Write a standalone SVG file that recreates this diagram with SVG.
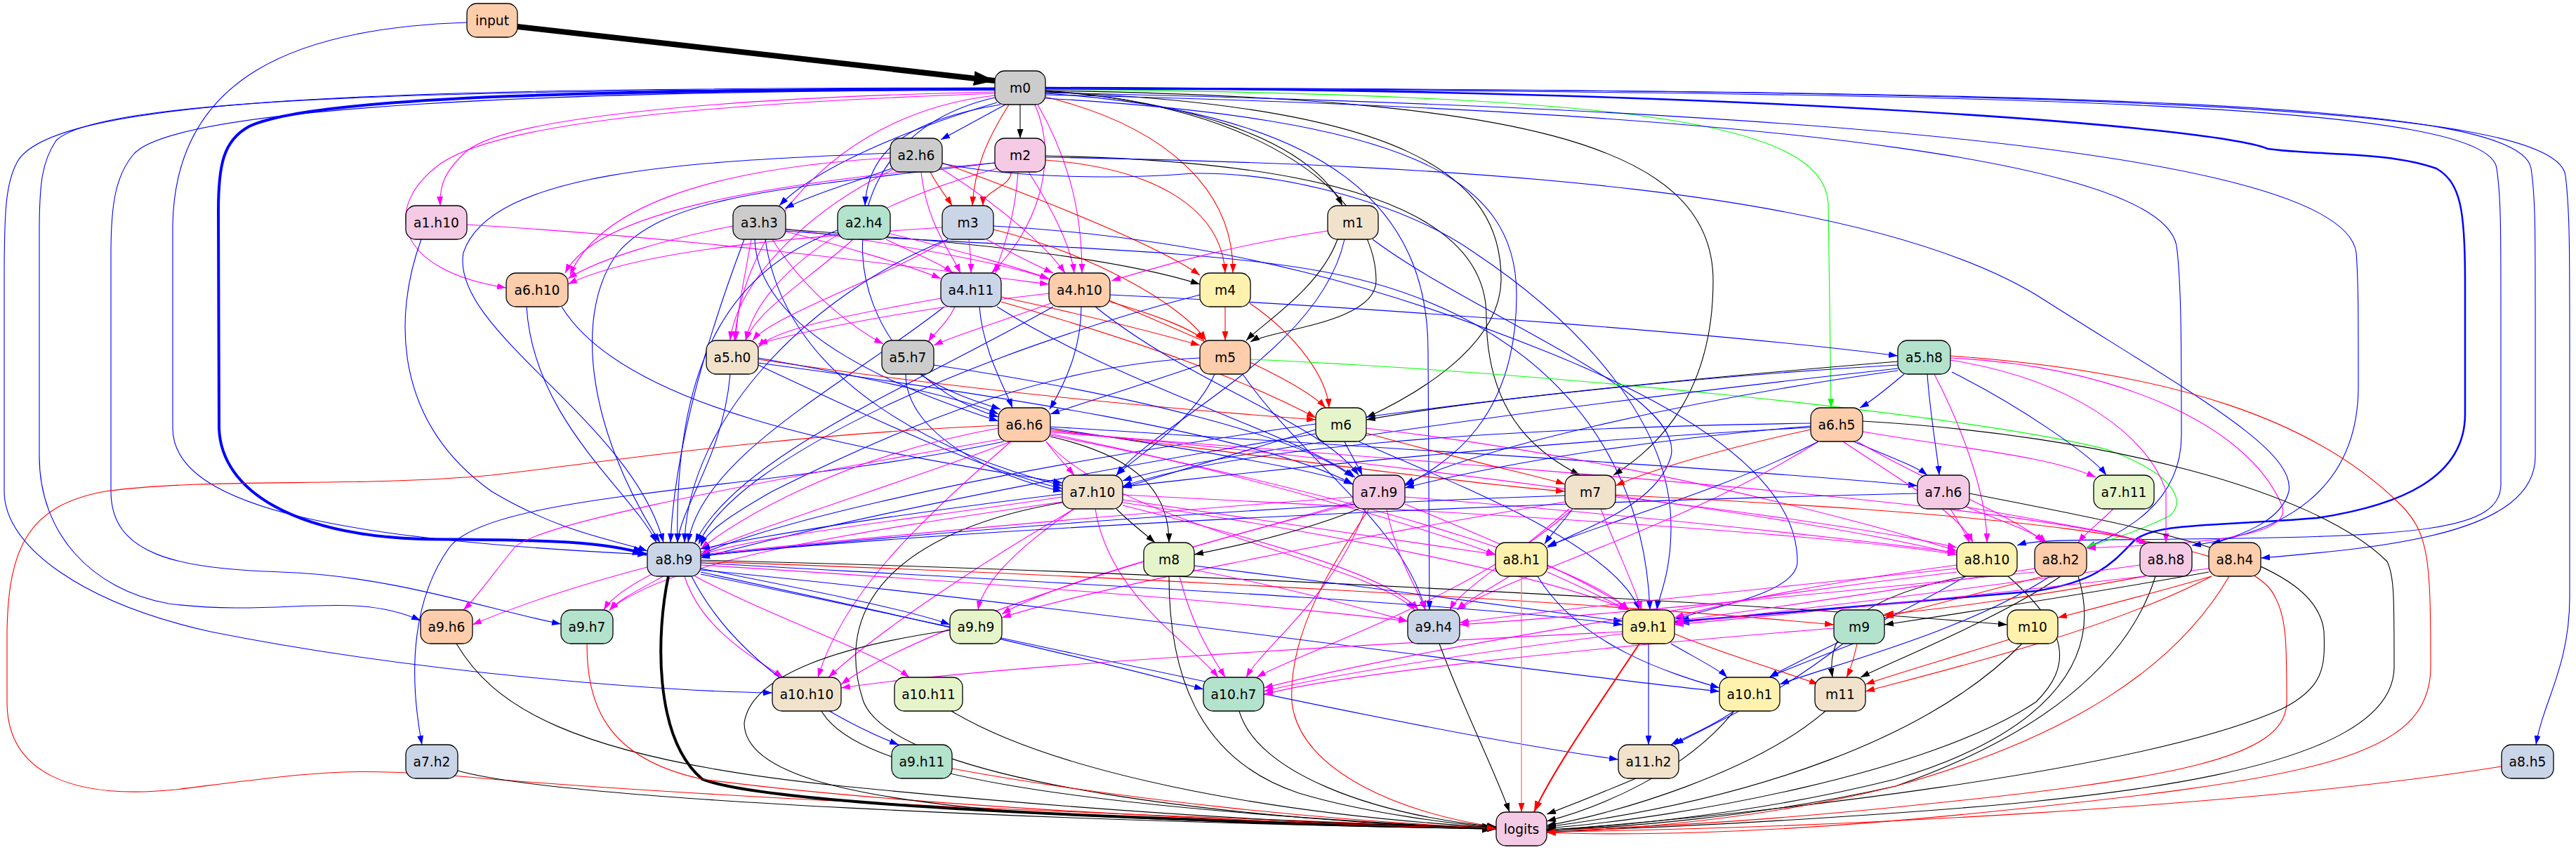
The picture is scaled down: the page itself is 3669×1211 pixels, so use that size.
<svg xmlns="http://www.w3.org/2000/svg" width="3669" height="1211" viewBox="0 0 3669 1211">
<defs>
<marker id="ak" viewBox="0 0 13 9" refX="13" refY="4.5" markerWidth="13" markerHeight="9" markerUnits="userSpaceOnUse" orient="auto"><path d="M0,0L13,4.5L0,9z" fill="#000"/></marker>
<marker id="ab" viewBox="0 0 13 9" refX="13" refY="4.5" markerWidth="13" markerHeight="9" markerUnits="userSpaceOnUse" orient="auto"><path d="M0,0L13,4.5L0,9z" fill="#00f"/></marker>
<marker id="ar" viewBox="0 0 13 9" refX="13" refY="4.5" markerWidth="13" markerHeight="9" markerUnits="userSpaceOnUse" orient="auto"><path d="M0,0L13,4.5L0,9z" fill="#f00"/></marker>
<marker id="am" viewBox="0 0 13 9" refX="13" refY="4.5" markerWidth="13" markerHeight="9" markerUnits="userSpaceOnUse" orient="auto"><path d="M0,0L13,4.5L0,9z" fill="#f0f"/></marker>
<marker id="ag" viewBox="0 0 13 9" refX="13" refY="4.5" markerWidth="13" markerHeight="9" markerUnits="userSpaceOnUse" orient="auto"><path d="M0,0L13,4.5L0,9z" fill="#0f0"/></marker>
<marker id="akT" viewBox="0 0 13 9" refX="13" refY="4.5" markerWidth="30" markerHeight="21" markerUnits="userSpaceOnUse" orient="auto"><path d="M0,0L13,4.5L0,9z" fill="#000"/></marker>
<marker id="akL" viewBox="0 0 13 9" refX="13" refY="4.5" markerWidth="20" markerHeight="14" markerUnits="userSpaceOnUse" orient="auto"><path d="M0,0L13,4.5L0,9z" fill="#000"/></marker>
<marker id="abT" viewBox="0 0 13 9" refX="13" refY="4.5" markerWidth="20" markerHeight="14" markerUnits="userSpaceOnUse" orient="auto"><path d="M0,0L13,4.5L0,9z" fill="#00f"/></marker>
<marker id="arM" viewBox="0 0 13 9" refX="13" refY="4.5" markerWidth="16" markerHeight="11" markerUnits="userSpaceOnUse" orient="auto"><path d="M0,0L13,4.5L0,9z" fill="#f00"/></marker>
</defs>
<style>
.e path{fill:none;stroke-width:1.1}
.k{stroke:#000;marker-end:url(#ak)}
.b{stroke:#00f;marker-end:url(#ab)}
.r{stroke:#f00;marker-end:url(#ar)}
.m{stroke:#f0f;marker-end:url(#am)}
.g{stroke:#0f0;marker-end:url(#ag)}
.e path.kT{stroke:#000;stroke-width:8;marker-end:url(#akT)}
.e path.kL{stroke:#000;stroke-width:4;marker-end:url(#akL)}
.e path.bT{stroke:#00f;stroke-width:4;marker-end:url(#abT)}
.e path.bM{stroke:#00f;stroke-width:2.5;marker-end:url(#abT)}
.e path.rM{stroke:#f00;stroke-width:2;marker-end:url(#arM)}
.e path.rl{stroke:#f88;stroke-width:1.5;marker-end:url(#ar)}
.n rect{stroke:#000;stroke-width:1.3}
.n text{font-family:"DejaVu Sans","Liberation Sans",sans-serif;font-size:18.67px;text-anchor:middle;fill:#000}
</style>
<rect width="3669" height="1211" fill="#fff"/>
<g id="connectors" class="e">
<path class="kT" d="M737,38 L1417,115"/>
<path class="b" d="M665,32 C420,40 250,110 246,320 L246,610 C246,730 520,770 921,790"/>
<path class="b" d="M1432,149 L1340,199"/>
<path class="k" d="M1453,149 L1453,197"/>
<path class="m" d="M1417,131 C1000,140 720,170 665,215 C632,245 626,265 627,293"/>
<path class="b" d="M1420,146 C1290,185 1160,240 1110,293"/>
<path class="b" d="M1425,149 C1300,170 1236,210 1232,293"/>
<path class="r" d="M1437,149 C1405,200 1388,240 1385,293"/>
<path class="k" d="M1489,130 C1660,140 1860,190 1912,293"/>
<path class="m" d="M1417,133 C950,150 700,180 625,235 C545,295 560,385 721,410"/>
<path class="m" d="M1474,149 C1510,230 1475,330 1412,389"/>
<path class="m" d="M1478,149 C1530,240 1541,320 1541,389"/>
<path class="r" d="M1489,138 C1660,180 1758,270 1756,389"/>
<path class="m" d="M1417,136 C1200,160 1060,320 1046,485"/>
<path class="k" d="M1489,129 C1800,150 1960,280 1960,400 C1960,460 1810,470 1781,487"/>
<path class="b" d="M1417,139 C1150,200 1180,520 1422,594"/>
<path class="k" d="M1489,131 C2000,150 2140,250 2138,400 C2136,500 2000,570 1946,595"/>
<path class="g" d="M1489,127 C2300,135 2598,170 2604,290 L2608,581"/>
<path class="b" d="M1489,140 C2000,170 2160,250 2160,420 C2160,600 2060,660 2001,692"/>
<path class="k" d="M1489,129 C2150,140 2440,200 2440,400 C2440,580 2340,650 2298,677"/>
<path class="bT" d="M1417,127 C900,128 450,135 355,180 C318,200 311,235 311,300 L312,610 C315,700 420,762 600,768 C750,770 850,768 921,790"/>
<path class="b" d="M1417,126 C700,128 150,135 80,200 C60,230 56,260 56,330 L56,650 C56,760 130,840 240,860 C400,880 500,840 599,884"/>
<path class="b" d="M1417,128 C800,130 250,150 190,220 C165,250 158,290 158,360 L158,700 C158,790 250,810 400,815 C560,820 700,870 799,889"/>
<path class="b" d="M1417,125 C600,126 80,135 25,230 C8,260 6,300 6,400 L6,700 C6,780 120,860 300,900 C600,960 950,985 1100,987"/>
<path class="b" d="M1489,133 C1900,160 2034,300 2034,500 L2036,869"/>
<path class="b" d="M1489,125 C3000,128 3640,150 3654,250 C3660,300 3660,350 3660,500 L3660,850 C3660,950 3622,1000 3612,1061"/>
<path class="b" d="M1489,126 C3000,128 3590,145 3605,240 C3611,280 3611,320 3611,450 L3611,650 C3611,760 3400,780 3220,795"/>
<path class="b" d="M1489,127 C2950,130 3545,150 3556,240 C3562,280 3562,320 3562,450 L3562,690 C3562,755 3450,765 3100,768 C2960,770 2900,768 2873,777"/>
<path class="b" d="M1489,132 C2800,160 3340,240 3356,360 C3359,400 3359,450 3359,550 C3359,700 3250,760 3122,777"/>
<path class="bM" d="M1489,125 C2500,128 3150,180 3230,212 C3300,222 3400,215 3470,240 C3505,260 3511,300 3511,400 L3511,590 C3511,680 3420,720 3300,738 C3150,750 3070,745 3040,770 C3010,800 2990,828 2900,842 C2700,860 2450,880 2386,886"/>
<path class="b" d="M1489,135 C2600,160 3080,240 3100,350 C3107,400 3107,500 3107,620 C3107,720 3020,760 2972,780"/>
<path class="r" d="M1440,245 C1440,267 1400,271 1400,293"/>
<path class="r" d="M1489,228 C1650,240 1740,300 1745,389"/>
<path class="m" d="M1450,245 C1445,320 1425,360 1418,389"/>
<path class="m" d="M1465,245 C1500,300 1525,350 1530,389"/>
<path class="m" d="M1417,232 C1100,260 850,300 805,389"/>
<path class="m" d="M1420,240 C1200,300 1080,400 1062,485"/>
<path class="b" d="M1417,232 C1100,270 950,280 880,360 C820,440 830,600 940,773"/>
<path class="k" d="M1489,222 C1900,230 2117,300 2117,450 C2117,600 2200,650 2250,677"/>
<path class="b" d="M1489,224 C2100,235 2650,270 2900,420 C3120,560 3270,640 3260,700 C3250,740 3200,760 3150,775"/>
<path class="b" d="M1270,240 C1200,265 1150,280 1118,297"/>
<path class="r" d="M1325,245 C1335,265 1348,280 1356,293"/>
<path class="r" d="M1342,232 C1500,290 1650,350 1709,392"/>
<path class="m" d="M1312,245 C1320,320 1355,360 1368,389"/>
<path class="m" d="M1340,240 C1420,290 1490,350 1517,389"/>
<path class="m" d="M1268,225 C1000,240 850,300 812,392"/>
<path class="m" d="M1275,240 C1150,300 1050,400 1040,485"/>
<path class="b" d="M1268,218 C1000,230 700,240 660,360 C640,470 900,600 945,773"/>
<path class="b" d="M1342,233 C1450,255 1600,255 1700,247 C1830,245 2000,290 2100,360 C2250,460 2380,600 2380,750 C2380,820 2362,850 2360,869"/>
<path class="m" d="M665,320 C1000,340 1300,380 1494,405"/>
<path class="b" d="M600,341 C560,450 560,600 700,700 C800,760 880,770 922,785"/>
<path class="m" d="M1119,330 C1200,350 1300,380 1340,397"/>
<path class="m" d="M1119,326 C1300,350 1450,380 1494,398"/>
<path class="k" d="M1119,327 C1400,345 1600,370 1709,405"/>
<path class="m" d="M1044,322 C950,340 850,370 809,397"/>
<path class="m" d="M1070,341 C1060,400 1050,440 1048,485"/>
<path class="m" d="M1100,341 C1150,420 1220,470 1258,490"/>
<path class="b" d="M1075,341 C1080,480 1300,560 1422,600"/>
<path class="b" d="M1060,341 C1000,500 960,650 955,773"/>
<path class="b" d="M1090,341 C1120,550 1350,650 1513,692"/>
<path class="b" d="M1119,329 C1400,352 1700,350 1900,390 C2150,440 2340,600 2350,869"/>
<path class="m" d="M1262,341 C1300,360 1340,375 1357,389"/>
<path class="m" d="M1268,333 C1380,360 1460,385 1494,397"/>
<path class="m" d="M1215,341 C1150,400 1080,440 1062,485"/>
<path class="b" d="M1193,328 C1050,380 960,500 965,773"/>
<path class="m" d="M1380,341 C1382,360 1383,370 1383,389"/>
<path class="m" d="M1405,341 C1440,360 1480,380 1500,389"/>
<path class="m" d="M1342,324 C1100,340 900,360 809,405"/>
<path class="m" d="M1350,341 C1250,400 1100,450 1072,485"/>
<path class="r" d="M1415,327 C1550,360 1680,430 1718,485"/>
<path class="b" d="M1350,341 C1150,420 980,600 975,773"/>
<path class="b" d="M1415,322 C1750,340 2000,420 2200,500 C2450,600 2560,700 2560,800 C2560,845 2440,865 2386,882"/>
<path class="m" d="M1891,329 C1750,350 1650,380 1583,400"/>
<path class="k" d="M1905,341 C1880,410 1800,460 1775,485"/>
<path class="b" d="M1915,341 C1880,500 1650,600 1590,677"/>
<path class="b" d="M1955,341 C2100,450 2400,560 2380,650 C2360,720 2260,750 2204,780"/>
<path class="b" d="M750,437 C760,600 900,700 935,773"/>
<path class="b" d="M800,437 C900,600 1300,650 1513,688"/>
<path class="m" d="M1360,437 C1350,460 1330,475 1322,487"/>
<path class="r" d="M1426,423 C1550,450 1650,475 1709,492"/>
<path class="r" d="M1426,430 C1600,480 1750,530 1874,595"/>
<path class="b" d="M1395,437 C1400,500 1430,550 1442,581"/>
<path class="b" d="M1345,437 C1200,550 1000,650 980,773"/>
<path class="b" d="M1420,437 C1600,550 1850,620 1930,680"/>
<path class="m" d="M1340,425 C1200,450 1100,470 1080,495"/>
<path class="m" d="M1497,432 C1420,460 1360,478 1330,492"/>
<path class="r" d="M1581,430 C1650,450 1700,470 1715,485"/>
<path class="b" d="M1540,437 C1540,500 1515,550 1495,583"/>
<path class="b" d="M1581,420 C2000,440 2500,480 2703,507"/>
<path class="b" d="M1560,437 C1700,550 1880,600 1935,677"/>
<path class="b" d="M1500,437 C1300,550 1050,650 990,773"/>
<path class="m" d="M1494,418 C1300,440 1150,470 1080,490"/>
<path class="r" d="M1580,428 C1700,480 1850,540 1888,581"/>
<path class="r" d="M1745,437 L1745,485"/>
<path class="r" d="M1780,432 C1850,480 1890,540 1893,581"/>
<path class="b" d="M1709,420 C1400,500 1050,650 995,775"/>
<path class="b" d="M1040,533 C1030,650 970,720 965,773"/>
<path class="r" d="M1080,512 C1400,560 1700,585 1874,598"/>
<path class="b" d="M1080,520 C1250,600 1400,670 1513,696"/>
<path class="b" d="M1080,517 C1400,560 1800,620 1927,690"/>
<path class="b" d="M1080,510 C1250,540 1380,570 1422,590"/>
<path class="b" d="M1310,533 C1350,560 1400,575 1425,583"/>
<path class="b" d="M1290,533 C1290,620 1420,680 1513,700"/>
<path class="b" d="M1330,520 C1600,560 1850,620 1927,680"/>
<path class="b" d="M1709,520 C1620,550 1540,575 1496,590"/>
<path class="b" d="M1730,533 C1700,600 1620,650 1590,677"/>
<path class="b" d="M1709,510 C1500,520 1300,600 1100,700 C1030,740 1005,760 998,778"/>
<path class="g" d="M1781,512 C2200,530 2800,590 3000,640 C3110,680 3110,720 3090,735 C3040,760 3000,770 2972,780"/>
<path class="b" d="M1770,533 C1850,650 2000,750 2030,869"/>
<path class="b" d="M2712,533 C2680,560 2660,575 2649,581"/>
<path class="k" d="M2703,515 C2400,540 2100,570 1946,598"/>
<path class="b" d="M2745,533 C2750,600 2760,650 2762,677"/>
<path class="b" d="M2780,530 C2880,580 2980,650 3000,677"/>
<path class="m" d="M2755,533 C2790,600 2830,700 2830,773"/>
<path class="b" d="M2703,520 C2000,560 1200,700 998,790"/>
<path class="b" d="M2703,525 C2200,580 1700,650 1599,685"/>
<path class="m" d="M2778,510 C3000,520 3200,600 3250,720 C3270,770 3100,775 2972,781"/>
<path class="m" d="M2778,513 C2950,540 3060,620 3085,700 L3085,773"/>
<path class="r" d="M2778,507 C3100,530 3300,600 3420,720 C3460,760 3462,800 3462,950 C3462,1080 3300,1110 2800,1160 C2500,1190 2300,1190 2203,1186"/>
<path class="b" d="M2703,528 C2400,570 2100,640 2001,690"/>
<path class="m" d="M1490,629 C1505,650 1520,665 1530,677"/>
<path class="b" d="M1496,610 C1700,640 1880,670 1927,690"/>
<path class="r" d="M1496,612 C1800,650 2100,690 2229,700"/>
<path class="k" d="M1496,622 C1620,650 1665,700 1665,773"/>
<path class="b" d="M1430,629 C1100,700 700,700 640,780 C590,850 580,950 601,1061"/>
<path class="m" d="M1422,610 C1200,650 1050,740 998,782"/>
<path class="m" d="M1430,625 C1000,700 760,750 733,780 C700,820 680,850 660,869"/>
<path class="m" d="M1440,629 C1200,720 900,800 860,869"/>
<path class="m" d="M1496,614 C2000,660 2600,740 2787,790"/>
<path class="m" d="M1496,618 C1800,680 2050,760 2130,790"/>
<path class="m" d="M1490,629 C1600,750 1950,800 2015,869"/>
<path class="m" d="M1496,620 C1900,700 2250,800 2320,869"/>
<path class="m" d="M1440,629 C1300,750 1200,850 1165,965"/>
<path class="b" d="M1496,608 C2000,640 2500,670 2731,692"/>
<path class="r" d="M1422,606 C1100,620 850,660 700,677 C500,695 300,680 150,700 C40,720 12,780 10,900 L10,1000 C10,1100 100,1140 250,1125 C450,1100 500,1090 700,1110 C1200,1150 1900,1170 2131,1180"/>
<path class="m" d="M1496,616 C2200,670 2900,720 3060,775"/>
<path class="b" d="M1915,629 C1925,650 1935,665 1940,677"/>
<path class="b" d="M1874,612 C1750,650 1650,680 1599,695"/>
<path class="r" d="M1946,617 C2100,660 2200,680 2229,690"/>
<path class="b" d="M1874,618 C1500,680 1200,740 998,795"/>
<path class="m" d="M1946,610 C2300,650 2650,740 2787,785"/>
<path class="b" d="M1935,629 C2100,700 2300,780 2335,869"/>
<path class="b" d="M2640,629 C2690,650 2730,665 2745,677"/>
<path class="b" d="M2579,607 C2300,630 2100,670 2001,695"/>
<path class="r" d="M2579,612 C2450,640 2350,670 2301,692"/>
<path class="b" d="M2579,603 C2100,610 1750,640 1599,693"/>
<path class="b" d="M2579,609 C2000,640 1300,720 998,782"/>
<path class="m" d="M2625,629 C2700,680 2790,730 2810,773"/>
<path class="m" d="M2645,629 C2750,690 2880,740 2910,773"/>
<path class="m" d="M2653,615 C2800,640 2920,650 2985,680"/>
<path class="m" d="M2590,629 C2400,750 2150,820 2075,869"/>
<path class="k" d="M2653,600 C3000,620 3300,700 3400,800 C3410,820 3410,850 3410,950 C3410,1100 3000,1140 2600,1165 C2400,1178 2280,1182 2203,1184"/>
<path class="b" d="M2590,629 C2450,700 2300,740 2204,778"/>
<path class="k" d="M1590,725 C1610,745 1630,760 1645,773"/>
<path class="m" d="M1513,708 C1300,740 1100,760 998,790"/>
<path class="m" d="M1599,712 C1800,740 2000,770 2130,790"/>
<path class="m" d="M1599,705 C2100,730 2600,760 2787,790"/>
<path class="m" d="M1530,725 C1450,780 1400,830 1393,869"/>
<path class="m" d="M1513,715 C1200,760 950,800 868,869"/>
<path class="m" d="M1599,720 C1800,770 1980,820 2020,869"/>
<path class="m" d="M1599,716 C1900,760 2200,820 2318,869"/>
<path class="m" d="M1560,725 C1580,850 1700,920 1735,965"/>
<path class="m" d="M1530,725 C1400,800 1250,900 1180,965"/>
<path class="k" d="M1513,716 C1300,752 1180,850 1230,1000 C1280,1120 1800,1170 2131,1181"/>
<path class="k" d="M1935,725 C1850,760 1750,780 1701,790"/>
<path class="m" d="M1927,708 C1500,740 1200,770 998,790"/>
<path class="m" d="M2001,708 C2400,740 2650,770 2787,787"/>
<path class="m" d="M1975,725 C1990,800 2020,840 2030,869"/>
<path class="m" d="M2001,718 C2150,780 2270,830 2320,869"/>
<path class="m" d="M1945,725 C1900,850 1800,920 1775,965"/>
<path class="m" d="M1927,715 C1700,780 1500,830 1427,875"/>
<path class="r" d="M1950,725 C1900,800 1835,900 1840,1000 C1850,1100 2000,1160 2131,1178"/>
<path class="m" d="M1927,718 C1600,800 1300,900 1198,975"/>
<path class="b" d="M2229,706 C1800,720 1300,760 998,792"/>
<path class="b" d="M2240,725 C2225,745 2210,760 2200,775"/>
<path class="m" d="M2301,708 C2500,730 2700,760 2787,780"/>
<path class="m" d="M2235,725 C2150,800 2080,840 2065,869"/>
<path class="m" d="M2280,725 C2310,800 2330,840 2338,869"/>
<path class="m" d="M2229,715 C1900,770 1550,840 1427,880"/>
<path class="r" d="M2301,705 C2800,730 3200,760 3240,850 C3257,880 3257,920 3257,1000 C3257,1080 3100,1110 2700,1150 C2450,1175 2300,1180 2203,1182"/>
<path class="m" d="M2240,725 C2100,850 1850,930 1790,965"/>
<path class="m" d="M2778,725 C2790,745 2800,760 2805,773"/>
<path class="m" d="M2800,722 C2860,745 2900,760 2915,773"/>
<path class="b" d="M2731,703 C2000,720 1300,760 998,792"/>
<path class="k" d="M2805,703 C3100,760 3300,800 3310,900 C3312,950 3310,980 3250,1010 C3050,1100 2500,1160 2203,1183"/>
<path class="m" d="M2800,722 C2950,750 3030,760 3055,775"/>
<path class="m" d="M3010,725 C2990,745 2970,760 2960,773"/>
<path class="kL" d="M952,821 C935,900 930,1050 1000,1110 C1100,1150 1700,1170 2131,1180"/>
<path class="m" d="M922,808 C800,840 720,870 673,890"/>
<path class="m" d="M945,821 C910,840 880,855 868,870"/>
<path class="b" d="M998,810 C1150,840 1300,870 1353,890"/>
<path class="m" d="M998,805 C1400,830 1800,860 2005,885"/>
<path class="b" d="M998,802 C1500,830 2100,860 2311,890"/>
<path class="r" d="M998,800 C1600,820 2300,860 2612,890"/>
<path class="k" d="M998,798 C1700,815 2500,860 2859,890"/>
<path class="m" d="M975,821 C1000,900 1080,940 1115,965"/>
<path class="m" d="M990,821 C1100,880 1250,930 1295,965"/>
<path class="b" d="M998,815 C1300,880 1600,950 1714,982"/>
<path class="b" d="M998,812 C1500,860 2200,960 2449,985"/>
<path class="b" d="M985,821 C1050,950 1200,1030 1280,1061"/>
<path class="b" d="M998,818 C1400,900 2000,1040 2305,1082"/>
<path class="m" d="M1701,812 C1850,840 1950,870 2005,885"/>
<path class="m" d="M1680,821 C1700,900 1730,940 1745,965"/>
<path class="k" d="M1665,821 C1665,950 1700,1080 1850,1130 C1950,1160 2080,1175 2131,1178"/>
<path class="b" d="M1701,806 C1900,830 2200,870 2311,885"/>
<path class="m" d="M2150,821 C2120,840 2090,855 2075,869"/>
<path class="m" d="M2204,815 C2250,835 2290,855 2318,869"/>
<path class="b" d="M2190,821 C2250,920 2380,960 2449,980"/>
<path class="rl" d="M2167,821 L2167,1157"/>
<path class="m" d="M2787,805 C2600,830 2450,860 2385,880"/>
<path class="m" d="M2787,810 C2500,840 2200,870 2079,887"/>
<path class="b" d="M2800,821 C2700,880 2560,940 2520,965"/>
<path class="k" d="M2800,821 C2650,850 2600,900 2610,965"/>
<path class="m" d="M2787,815 C2400,860 2000,930 1800,980"/>
<path class="k" d="M2860,821 C2950,900 2950,950 2900,1000 C2750,1100 2400,1165 2203,1180"/>
<path class="m" d="M2898,810 C2700,840 2500,870 2385,885"/>
<path class="r" d="M2910,821 C2800,850 2720,870 2684,880"/>
<path class="b" d="M2920,821 C2800,900 2600,950 2535,975"/>
<path class="k" d="M2935,821 C2850,880 2700,940 2650,965"/>
<path class="k" d="M2960,821 C3000,950 2900,1050 2700,1110 C2500,1160 2300,1178 2203,1182"/>
<path class="m" d="M2898,815 C2600,845 2300,875 2079,890"/>
<path class="m" d="M3048,805 C2800,840 2550,870 2385,888"/>
<path class="r" d="M3055,821 C2900,850 2750,870 2684,875"/>
<path class="k" d="M3070,821 C3030,950 2900,1050 2700,1120 C2500,1165 2300,1180 2203,1182"/>
<path class="k" d="M3146,815 C2950,850 2750,880 2684,890"/>
<path class="r" d="M3150,821 C3050,850 2970,870 2931,880"/>
<path class="m" d="M3146,810 C2900,840 2600,870 2385,890"/>
<path class="r" d="M3150,821 C3000,900 2750,960 2657,985"/>
<path class="r" d="M3175,821 C3100,950 2950,1050 2700,1120 C2500,1170 2300,1182 2203,1186"/>
<path class="k" d="M650,917 C700,1000 800,1080 1200,1120 C1600,1160 1900,1175 2131,1180"/>
<path class="r" d="M836,917 C836,1000 860,1080 1000,1110 C1300,1150 1800,1172 2131,1181"/>
<path class="k" d="M1353,898 C1200,920 1070,960 1060,1030 C1060,1100 1200,1140 1500,1160 C1800,1175 2000,1180 2131,1180"/>
<path class="k" d="M2050,917 C2080,1000 2130,1100 2150,1157"/>
<path class="rM" d="M2335,917 C2280,1000 2210,1100 2185,1157"/>
<path class="b" d="M2380,917 C2420,940 2450,955 2460,965"/>
<path class="r" d="M2385,903 C2450,930 2550,960 2590,975"/>
<path class="b" d="M2348,917 L2348,1061"/>
<path class="m" d="M2311,903 C2100,930 1900,960 1800,985"/>
<path class="m" d="M2311,900 C1900,920 1400,950 1198,980"/>
<path class="b" d="M2640,917 C2580,940 2540,955 2520,965"/>
<path class="r" d="M2645,917 C2640,940 2635,955 2630,965"/>
<path class="m" d="M2612,895 C2300,920 1900,960 1800,990"/>
<path class="b" d="M2625,917 C2520,1000 2420,1040 2385,1061"/>
<path class="r" d="M2865,910 C2770,940 2700,960 2657,975"/>
<path class="k" d="M2880,917 C2750,1050 2500,1140 2203,1178"/>
<path class="k" d="M1170,1013 C1220,1100 1500,1150 2131,1181"/>
<path class="k" d="M1355,1013 C1500,1100 1800,1160 2131,1179"/>
<path class="k" d="M1765,1013 C1790,1100 1950,1160 2131,1178"/>
<path class="b" d="M2470,1013 C2430,1040 2400,1050 2380,1061"/>
<path class="k" d="M2470,1013 C2400,1100 2280,1150 2203,1170"/>
<path class="k" d="M2600,1013 C2500,1100 2300,1160 2203,1176"/>
<path class="k" d="M652,1098 C800,1140 1500,1170 2131,1181"/>
<path class="r" d="M1356,1095 C1600,1140 1900,1170 2131,1180"/>
<path class="k" d="M2330,1109 C2280,1130 2230,1150 2203,1160"/>
<path class="r" d="M3563,1092 C3200,1150 2600,1180 2203,1185"/>
</g>
<g id="nodes" class="n">
<g id="n_input"><rect x="665" y="5" width="72" height="48" rx="14" fill="#fdcdac"/><text x="701" y="35.5">input</text></g>
<g id="n_m0"><rect x="1417" y="101" width="72" height="48" rx="14" fill="#cccccc"/><text x="1453" y="131.5">m0</text></g>
<g id="n_a2h6"><rect x="1268" y="197" width="74" height="48" rx="14" fill="#cccccc"/><text x="1305" y="227.5">a2.h6</text></g>
<g id="n_m2"><rect x="1417" y="197" width="72" height="48" rx="14" fill="#f4cae4"/><text x="1453" y="227.5">m2</text></g>
<g id="n_a1h10"><rect x="578" y="293" width="87" height="48" rx="14" fill="#f4cae4"/><text x="621.5" y="323.5">a1.h10</text></g>
<g id="n_a3h3"><rect x="1044" y="293" width="75" height="48" rx="14" fill="#cccccc"/><text x="1081.5" y="323.5">a3.h3</text></g>
<g id="n_a2h4"><rect x="1193" y="293" width="75" height="48" rx="14" fill="#b3e2cd"/><text x="1230.5" y="323.5">a2.h4</text></g>
<g id="n_m3"><rect x="1342" y="293" width="73" height="48" rx="14" fill="#cbd5e8"/><text x="1378.5" y="323.5">m3</text></g>
<g id="n_m1"><rect x="1891" y="293" width="72" height="48" rx="14" fill="#f1e2cc"/><text x="1927" y="323.5">m1</text></g>
<g id="n_a6h10"><rect x="721" y="389" width="88" height="48" rx="14" fill="#fdcdac"/><text x="765" y="419.5">a6.h10</text></g>
<g id="n_a4h11"><rect x="1340" y="389" width="86" height="48" rx="14" fill="#cbd5e8"/><text x="1383" y="419.5">a4.h11</text></g>
<g id="n_a4h10"><rect x="1494" y="389" width="87" height="48" rx="14" fill="#fdcdac"/><text x="1537.5" y="419.5">a4.h10</text></g>
<g id="n_m4"><rect x="1709" y="389" width="72" height="48" rx="14" fill="#fff2ae"/><text x="1745" y="419.5">m4</text></g>
<g id="n_a5h0"><rect x="1006" y="485" width="74" height="48" rx="14" fill="#f1e2cc"/><text x="1043" y="515.5">a5.h0</text></g>
<g id="n_a5h7"><rect x="1256" y="485" width="74" height="48" rx="14" fill="#cccccc"/><text x="1293" y="515.5">a5.h7</text></g>
<g id="n_m5"><rect x="1709" y="485" width="72" height="48" rx="14" fill="#fdcdac"/><text x="1745" y="515.5">m5</text></g>
<g id="n_a5h8"><rect x="2703" y="485" width="75" height="48" rx="14" fill="#b3e2cd"/><text x="2740.5" y="515.5">a5.h8</text></g>
<g id="n_a6h6"><rect x="1422" y="581" width="74" height="48" rx="14" fill="#fdcdac"/><text x="1459" y="611.5">a6.h6</text></g>
<g id="n_m6"><rect x="1874" y="581" width="72" height="48" rx="14" fill="#e6f5c9"/><text x="1910" y="611.5">m6</text></g>
<g id="n_a6h5"><rect x="2579" y="581" width="74" height="48" rx="14" fill="#fdcdac"/><text x="2616" y="611.5">a6.h5</text></g>
<g id="n_a7h10"><rect x="1513" y="677" width="86" height="48" rx="14" fill="#f1e2cc"/><text x="1556" y="707.5">a7.h10</text></g>
<g id="n_a7h9"><rect x="1927" y="677" width="74" height="48" rx="14" fill="#f4cae4"/><text x="1964" y="707.5">a7.h9</text></g>
<g id="n_m7"><rect x="2229" y="677" width="72" height="48" rx="14" fill="#f1e2cc"/><text x="2265" y="707.5">m7</text></g>
<g id="n_a7h6"><rect x="2731" y="677" width="74" height="48" rx="14" fill="#f4cae4"/><text x="2768" y="707.5">a7.h6</text></g>
<g id="n_a7h11"><rect x="2982" y="677" width="86" height="48" rx="14" fill="#e6f5c9"/><text x="3025" y="707.5">a7.h11</text></g>
<g id="n_a8h9"><rect x="922" y="773" width="76" height="48" rx="14" fill="#cbd5e8"/><text x="960" y="803.5">a8.h9</text></g>
<g id="n_m8"><rect x="1629" y="773" width="72" height="48" rx="14" fill="#e6f5c9"/><text x="1665" y="803.5">m8</text></g>
<g id="n_a8h1"><rect x="2130" y="773" width="74" height="48" rx="14" fill="#fff2ae"/><text x="2167" y="803.5">a8.h1</text></g>
<g id="n_a8h10"><rect x="2787" y="773" width="86" height="48" rx="14" fill="#fff2ae"/><text x="2830" y="803.5">a8.h10</text></g>
<g id="n_a8h2"><rect x="2898" y="773" width="74" height="48" rx="14" fill="#fdcdac"/><text x="2935" y="803.5">a8.h2</text></g>
<g id="n_a8h8"><rect x="3048" y="773" width="74" height="48" rx="14" fill="#f4cae4"/><text x="3085" y="803.5">a8.h8</text></g>
<g id="n_a8h4"><rect x="3146" y="773" width="74" height="48" rx="14" fill="#fdcdac"/><text x="3183" y="803.5">a8.h4</text></g>
<g id="n_a9h6"><rect x="599" y="869" width="74" height="48" rx="14" fill="#fdcdac"/><text x="636" y="899.5">a9.h6</text></g>
<g id="n_a9h7"><rect x="799" y="869" width="74" height="48" rx="14" fill="#b3e2cd"/><text x="836" y="899.5">a9.h7</text></g>
<g id="n_a9h9"><rect x="1353" y="869" width="74" height="48" rx="14" fill="#e6f5c9"/><text x="1390" y="899.5">a9.h9</text></g>
<g id="n_a9h4"><rect x="2005" y="869" width="74" height="48" rx="14" fill="#cbd5e8"/><text x="2042" y="899.5">a9.h4</text></g>
<g id="n_a9h1"><rect x="2311" y="869" width="74" height="48" rx="14" fill="#fff2ae"/><text x="2348" y="899.5">a9.h1</text></g>
<g id="n_m9"><rect x="2612" y="869" width="72" height="48" rx="14" fill="#b3e2cd"/><text x="2648" y="899.5">m9</text></g>
<g id="n_m10"><rect x="2859" y="869" width="72" height="48" rx="14" fill="#fff2ae"/><text x="2895" y="899.5">m10</text></g>
<g id="n_a10h10"><rect x="1100" y="965" width="98" height="48" rx="14" fill="#f1e2cc"/><text x="1149" y="995.5">a10.h10</text></g>
<g id="n_a10h11"><rect x="1274" y="965" width="97" height="48" rx="14" fill="#e6f5c9"/><text x="1322.5" y="995.5">a10.h11</text></g>
<g id="n_a10h7"><rect x="1714" y="965" width="86" height="48" rx="14" fill="#b3e2cd"/><text x="1757" y="995.5">a10.h7</text></g>
<g id="n_a10h1"><rect x="2449" y="965" width="86" height="48" rx="14" fill="#fff2ae"/><text x="2492" y="995.5">a10.h1</text></g>
<g id="n_m11"><rect x="2585" y="965" width="72" height="48" rx="14" fill="#f1e2cc"/><text x="2621" y="995.5">m11</text></g>
<g id="n_a7h2"><rect x="578" y="1061" width="74" height="48" rx="14" fill="#cbd5e8"/><text x="615" y="1091.5">a7.h2</text></g>
<g id="n_a9h11"><rect x="1270" y="1061" width="86" height="48" rx="14" fill="#b3e2cd"/><text x="1313" y="1091.5">a9.h11</text></g>
<g id="n_a11h2"><rect x="2305" y="1061" width="86" height="48" rx="14" fill="#f1e2cc"/><text x="2348" y="1091.5">a11.h2</text></g>
<g id="n_a8h5"><rect x="3563" y="1061" width="74" height="48" rx="14" fill="#cbd5e8"/><text x="3600" y="1091.5">a8.h5</text></g>
<g id="n_logits"><rect x="2131" y="1157" width="72" height="48" rx="14" fill="#f4cae4"/><text x="2167" y="1187.5">logits</text></g>
</g>
</svg>
